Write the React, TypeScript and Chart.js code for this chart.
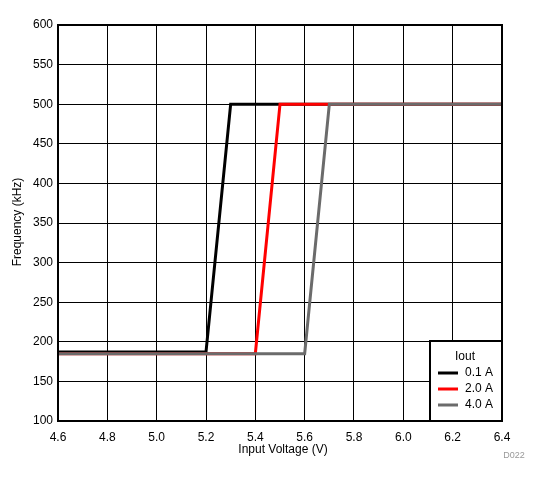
import React, { useEffect, useRef } from "react";
import { Chart, registerables } from "chart.js";
Chart.register(...registerables);

const seriesLabels = ["0.1 A", "2.0 A", "4.0 A"];
const seriesColors = ["#000000", "#ff0000", "#6b6b6b"];
const xBlack = [4.6, 5.2, 5.3, 6.4];
const yBlack = [187, 187, 500, 500];
const xRed = [4.6, 5.4, 5.5, 6.4];
const yRed = [185, 185, 500, 500];
const xGray = [4.6, 5.6, 5.7, 6.4];
const yGray = [185, 185, 500, 500];
const legendTitle = "Iout";
const xTitle = "Input Voltage (V)";
const yTitle = "Frequency (kHz)";
const footnote = "D022";

const FONT = "'Liberation Sans', Arial, sans-serif";

const zip = (xs: number[], ys: number[]) => xs.map((x, i) => ({ x, y: ys[i] }));

export default function App() {
  const ref = useRef<HTMLCanvasElement | null>(null);
  useEffect(() => {
    const canvas = ref.current!;
    const overlay = {
      id: "overlay",
      afterDatasetsDraw(chart: any) {
        const { ctx, chartArea: a } = chart;
        ctx.save();
        ctx.strokeStyle = "#000";
        ctx.lineWidth = 2;
        ctx.strokeRect(a.left, a.top, a.right - a.left, a.bottom - a.top);
        // legend box
        const bx = 430, by = 341, bw = a.right - 430, bh = a.bottom - 341;
        ctx.fillStyle = "#fff";
        ctx.fillRect(bx, by, bw, bh);
        ctx.strokeRect(bx, by, bw, bh);
        ctx.fillStyle = "#000";
        ctx.font = `12px ${FONT}`;
        ctx.textBaseline = "middle";
        ctx.textAlign = "left";
        ctx.fillText(legendTitle, 455, 357);
        seriesLabels.forEach((lab, i) => {
          const y = 373 + i * 16;
          ctx.strokeStyle = seriesColors[i];
          ctx.lineWidth = 3;
          ctx.beginPath();
          ctx.moveTo(438, y);
          ctx.lineTo(458, y);
          ctx.stroke();
          ctx.fillStyle = "#000";
          ctx.fillText(lab, 465, y);
        });
        // axis titles
        ctx.fillStyle = "#000";
        ctx.font = `12px ${FONT}`;
        ctx.textAlign = "center";
        ctx.fillText(xTitle, (a.left + a.right) / 2 + 3, 450);
        ctx.save();
        ctx.translate(18, 222);
        ctx.rotate(-Math.PI / 2);
        ctx.fillText(yTitle, 0, 0);
        ctx.restore();
        ctx.fillStyle = "#999";
        ctx.font = `9px ${FONT}`;
        ctx.textAlign = "center";
        ctx.fillText(footnote, 514, 456);
        ctx.restore();
      },
    };
    const chart = new Chart(canvas, {
      type: "line",
      data: {
        datasets: [
          { label: seriesLabels[0], data: zip(xBlack, yBlack), borderColor: seriesColors[0], order: 3 },
          { label: seriesLabels[1], data: zip(xRed, yRed), borderColor: seriesColors[1], order: 2 },
          { label: seriesLabels[2], data: zip(xGray, yGray), borderColor: seriesColors[2], order: 1 },
        ].map((d) => ({ ...d, borderWidth: 3, pointRadius: 0, tension: 0, fill: false })),
      },
      options: {
        responsive: false,
        animation: false,
        layout: { padding: { top: 25, right: 39, left: 0, bottom: 0 } },
        plugins: { legend: { display: false }, tooltip: { enabled: false } },
        scales: {
          x: {
            type: "linear",
            min: 4.6,
            max: 6.4,
            ticks: {
              stepSize: 0.2,
              color: "#000",
              font: { family: FONT, size: 12 },
              padding: 9,
              callback: (v: any) => Number(v).toFixed(1),
            },
            grid: { color: "#000", lineWidth: 1, drawTicks: false },
            border: { display: false },
            afterFit: (s: any) => { s.height = 62; },
          },
          y: {
            min: 100,
            max: 600,
            ticks: { stepSize: 50, color: "#000", font: { family: FONT, size: 12 }, padding: 5 },
            grid: { color: "#000", lineWidth: 1, drawTicks: false },
            border: { display: false },
            afterFit: (s: any) => { s.width = 58; },
          },
        },
      },
      plugins: [overlay],
    } as any);
    return () => chart.destroy();
  }, []);
  return (
    <div style={{ position: "absolute", left: 0, top: 0 }}>
      <canvas ref={ref} width={541} height={483} style={{ display: "block" }} />
    </div>
  );
}
